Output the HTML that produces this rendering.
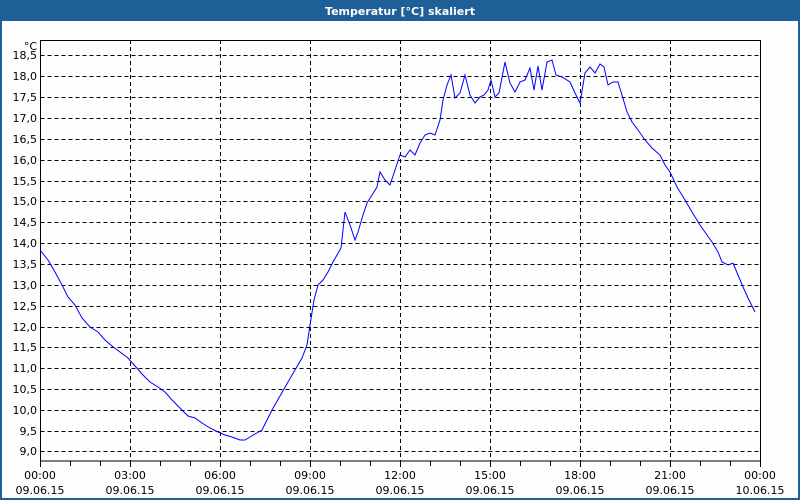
<!DOCTYPE html>
<html><head><meta charset="utf-8"><style>
body{margin:0;width:800px;height:500px;overflow:hidden;background:#fff}
svg{display:block}
text{font-family:"DejaVu Sans","Liberation Sans",sans-serif;font-size:11px;fill:#000}
</style></head><body>
<svg width="800" height="500" xmlns="http://www.w3.org/2000/svg">
<rect x="0" y="0" width="800" height="500" fill="#1d5f96"/>
<rect x="2" y="21" width="796" height="477" fill="#fcfdfc"/>
<text x="400" y="15" text-anchor="middle" style="fill:#fff;font-weight:bold;font-size:11px">Temperatur [°C] skaliert</text>
<g stroke="#000" stroke-width="1" stroke-dasharray="4,3" fill="none">
<path d="M40.5 55.5H760M40.5 76.5H760M40.5 97.5H760M40.5 118.5H760M40.5 139.5H760M40.5 160.5H760M40.5 181.5H760M40.5 201.5H760M40.5 222.5H760M40.5 243.5H760M40.5 264.5H760M40.5 285.5H760M40.5 306.5H760M40.5 327.5H760M40.5 347.5H760M40.5 368.5H760M40.5 389.5H760M40.5 410.5H760M40.5 431.5H760M40.5 451.5H760"/>
<path d="M130.5 40V461M220.5 40V461M310.5 40V461M400.5 40V461M490.5 40V461M580.5 40V461M670.5 40V461"/>
</g>
<rect x="40.5" y="40.5" width="720" height="420.5" fill="none" stroke="#000"/>
<g stroke="#000"><path d="M70.5 461v5M100.5 461v5M130.5 461v6M160.5 461v5M190.5 461v5M220.5 461v6M250.5 461v5M280.5 461v5M310.5 461v6M340.5 461v5M370.5 461v5M400.5 461v6M430.5 461v5M460.5 461v5M490.5 461v6M520.5 461v5M550.5 461v5M580.5 461v6M610.5 461v5M640.5 461v5M670.5 461v6M700.5 461v5M730.5 461v5M40.5 461v6M760.5 461v6"/></g>
<g text-anchor="end">
<text x="37" y="50">°C</text>
<text x="37" y="59">18,5</text><text x="37" y="80">18,0</text><text x="37" y="101">17,5</text><text x="37" y="122">17,0</text><text x="37" y="143">16,5</text><text x="37" y="164">16,0</text><text x="37" y="185">15,5</text><text x="37" y="205">15,0</text><text x="37" y="226">14,5</text><text x="37" y="247">14,0</text><text x="37" y="268">13,5</text><text x="37" y="289">13,0</text><text x="37" y="310">12,5</text><text x="37" y="331">12,0</text><text x="37" y="351">11,5</text><text x="37" y="372">11,0</text><text x="37" y="393">10,5</text><text x="37" y="414">10,0</text><text x="37" y="435">9,5</text><text x="37" y="455">9,0</text>
</g>
<g text-anchor="middle">
<text x="40" y="479">00:00</text><text x="40" y="494">09.06.15</text>
<text x="130" y="479">03:00</text><text x="130" y="494">09.06.15</text>
<text x="220" y="479">06:00</text><text x="220" y="494">09.06.15</text>
<text x="310" y="479">09:00</text><text x="310" y="494">09.06.15</text>
<text x="400" y="479">12:00</text><text x="400" y="494">09.06.15</text>
<text x="490" y="479">15:00</text><text x="490" y="494">09.06.15</text>
<text x="580" y="479">18:00</text><text x="580" y="494">09.06.15</text>
<text x="670" y="479">21:00</text><text x="670" y="494">09.06.15</text>
<text x="760" y="479">00:00</text><text x="760" y="494">10.06.15</text>
</g>
<polyline fill="none" stroke="#0000ff" stroke-width="1" points="40,250 48,260 55,272 62,285 68,297 75,305 82,318 90,327 98,332 105,340 112,346 120,352 128,358 135,366 142,374 150,382 158,387 165,392 172,400 180,408 188,416 195,418 202,423 210,428 218,432 225,435 232,437 240,440 245,440 250,437 255,434 262,430 267,420 272,410 280,396 288,382 295,370 302,358 307,345 310,325 314,300 318,285 323,280 328,272 333,262 337,255 341,248 345,212 350,225 355,240 358,232 363,215 367,203 372,195 377,187 380,172 385,180 390,185 395,170 400,155 405,157 410,150 415,155 420,143 425,135 430,133 435,135 440,120 443,100 447,85 451,75 455,98 460,93 465,75 470,95 475,103 480,97 484,95 488,90 491,80 495,97 499,93 505,62 510,83 515,92 520,82 525,80 530,68 534,90 538,66 542,90 547,62 552,60 556,75 562,77 570,82 575,93 580,103 585,73 590,67 595,73 600,64 604,67 608,85 613,82 618,82 622,95 627,112 632,122 638,130 645,140 652,148 660,155 665,165 670,172 677,187 685,200 692,212 700,225 707,235 712,242 718,252 722,262 728,265 733,263 738,275 743,287 748,298 755,312"/>
</svg>
</body></html>
